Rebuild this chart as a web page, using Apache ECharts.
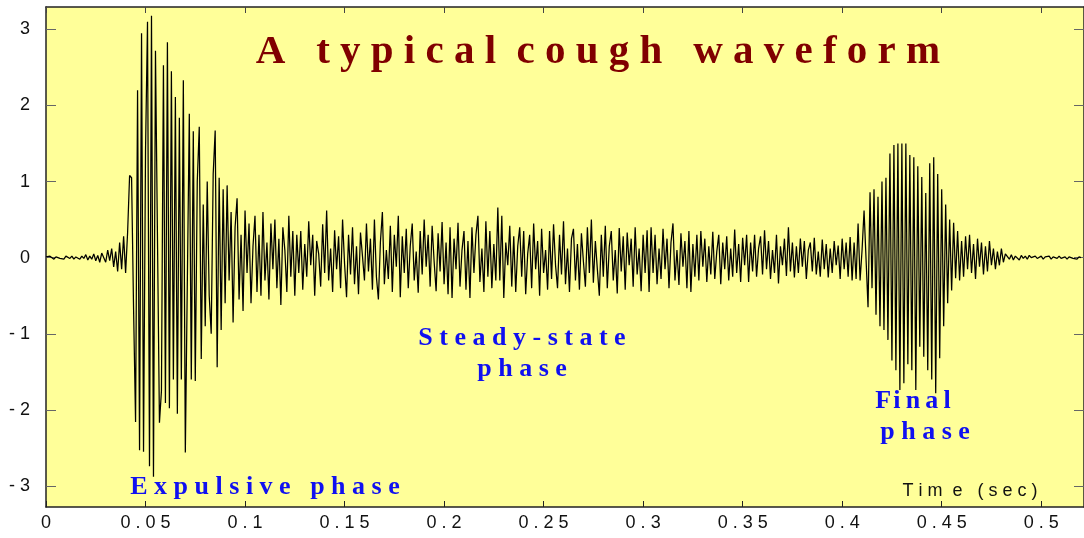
<!DOCTYPE html>
<html>
<head>
<meta charset="utf-8">
<script src="https://cdn.jsdelivr.net/npm/echarts@6/dist/echarts.min.js"></script>
<style>
html,body{margin:0;padding:0;background:#fff;}
#chart{width:1084px;height:538px;}
</style>
</head>
<body>
<div id="chart"></div>
<script>
// ---- data ----
const sampleStep = 0.001; // seconds between samples
const preNoise = [0.01,-0.01,0.02,0,-0.02,0.01,0.03,-0.01,0.01,-0.02,0.02,0.01,-0.01,0.02,-0.02,0.01,0.03,-0.02,0.02,-0.01,0.04,-0.03,0.02,-0.02,0.05,-0.04,0.03,-0.06,0.06];
const onset = [0.05,-0.06,0.1,-0.04,0.12,-0.12,0.08,-0.18,0.2,-0.15,0.28,-0.2,0.33];
const expulsive = [1.08,1.05,-0.68,-2.16,2.2,-2.53,2.95,-2.55,1.4,3.1,-2.74,3.18,-2.88,2.72,2.7,-2.17,-1.75,2.53,-1.91,2.83,-1.98,2.45,-1.6,2.11,-2.05,1.84,-1.6,2.33,-2.56,-2.55,1.89,-1.6,1.66,-1.62,1.0,1.72,-1.33,0.7,-0.9,1.0,-0.5,-1.0,1.1,1.67,-1.44,1.05,-0.95,0.9,-0.6];
const decay = [0.95,-0.3,0.6,-0.85,0.4,0.78,-0.55,0.3,-0.7,0.62,-0.2,0.45,-0.6,0.15,0.55,-0.45,0.3,-0.5,0.6,-0.3,0.2,-0.55,0.45,-0.15,0.5,-0.4,0.25,-0.62,0.4,0.1,-0.45,0.55,-0.25,0.35,-0.5,0.3,-0.2];
const steadyA = [0.35,-0.42,0.18,-0.25,0.48,-0.1,0.3,-0.5,0.22,0.05,-0.38,0.44,-0.2,0.62,-0.3,0.12,-0.45,0.36,-0.15,0.28,-0.4,0.5,-0.08,-0.52,0.3];
const steadyB = [-0.22,0.4,-0.35,0.15,-0.48,0.33,0.02,-0.3,0.45,-0.18,0.25,-0.42,0.5,-0.25,-0.55,0.2,0.6,-0.35,0.1,-0.28,0.42,-0.45,0.3,-0.12,0.55];
const steadyC = [-0.52,0.28,-0.2,0.38,-0.4,0.15,0.45,-0.3,0.08,-0.46,0.35,-0.22,0.5,-0.12,0.3,-0.38,0.42,-0.05,-0.44,0.32,-0.18,0.47,-0.35,0.2,-0.48];
const steadyD = [0.4,-0.53,0.25,-0.15,0.46,-0.38,0.1,0.35,-0.42,0.22,-0.53,0.4,-0.2,0.3,0.55,-0.32,0.12,-0.45,0.48,-0.25,0.35,-0.4,0.18,-0.3,0.66];
const steadyE = [-0.3,0.55,-0.53,0.2,-0.1,0.42,-0.38,0.28,-0.45,0.15,0.4,-0.25,0.35,-0.48,0.05,0.3,-0.4,0.45,-0.15,0.22,-0.5,0.38,-0.2,0.1,-0.42];
const steadyF = [0.35,-0.28,0.44,-0.1,-0.4,0.3,-0.22,0.48,-0.35,0.12,-0.45,0.25,0.38,-0.3,0.18,-0.42,0.32,-0.05,-0.38,0.4,-0.2,0.5,-0.33,0.22,-0.15];
const steadyG = [-0.5,0.3,-0.25,0.42,-0.4,0.15,0.35,-0.3,0.1,-0.47,0.39,-0.18,0.28,-0.42,0.33,-0.1,0.25,-0.38,0.4,-0.22,0.12,-0.44,0.3,-0.2,0.36];
const steadyH = [-0.45,0.4,-0.2,0.3,-0.35,0.12,-0.28,0.38,-0.15,0.25,-0.4,0.2,0.45,-0.3,0.1,-0.36,0.32,-0.12,0.22,-0.4,0.35,-0.45,0.18,-0.25,0.3];
const steadyI = [-0.3,0.35,-0.12,0.25,-0.32,0.15,-0.22,0.34,-0.28,0.08,0.3,-0.35,0.2,-0.15,0.28,-0.3,0.12,-0.25,0.37,-0.2,0.18,-0.32,0.26,-0.1,0.3];
const steadyJ = [-0.32,0.2,-0.18,0.3,-0.25,0.12,0.28,-0.22,0.36,-0.15,0.22,-0.28,0.1,-0.2,0.3,-0.34,0.15,-0.1,0.25,-0.24,0.4,-0.18,0.2,-0.26,0.15];
const steadyK = [-0.2,0.25,-0.12,0.22,-0.28,0.1,0.2,-0.18,0.26,-0.22,0.08,-0.25,0.24,-0.15,0.18,-0.26,0.12,-0.2,0.22,-0.1,0.16,-0.28,0.25,-0.15,0.2];
const finalPhase = [-0.25,0.27,-0.3,0.2,-0.28,
  0.45,-0.3,0.1,0.62,0.6,-0.65,0.86,-0.4,0.9,-0.75,0.8,-0.9,1.0,-0.95,1.05,-1.08,1.37,-1.35,1.48,-1.48,1.5,-1.74,1.5,-1.65,1.5,-1.4,1.35,-1.48,1.32,-1.74,1.2,-1.17,1.06,-1.3,0.85,-1.48,1.24,-1.6,1.32,-1.78,1.1,-1.32,0.9,-0.9,0.7,-0.6,0.5,-0.43,0.46,
  -0.27,0.35,-0.3,0.22,-0.25,0.28,-0.15,0.3,-0.2,0.18,-0.28,0.25,-0.12,0.2,-0.22,0.15,-0.18,0.22,-0.1,0.12,-0.15,0.08,-0.1,0.12,-0.06,0.05];
const tail = [0.03,-0.02,0.04,-0.03,0.02,0.01,-0.03,0.03,-0.01,0.02,-0.02,0.03,0,-0.02,0.02,-0.01,0.01,0.02,-0.02,0.01,-0.01,0.02,-0.02,0.01,0.01,-0.01,0.02,-0.01,0,0.01,-0.02,0.01,0.02,-0.01,0.01,-0.02,0.01,0];

const xTickValues = [0,0.05,0.1,0.15,0.2,0.25,0.3,0.35,0.4,0.45,0.5];
const xTickLabels = ['0','0 . 0 5','0 . 1','0 . 1 5','0 . 2','0 . 2 5','0 . 3','0 . 3 5','0 . 4','0 . 4 5','0 . 5'];
const yTickValues = [-3,-2,-1,0,1,2,3];
const yTickLabels = ['- 3','- 2','- 1','0','1','2','3'];

const titleText = 'A   t y p i c a l  c o u g h   w a v e f o r m';
const noteExpulsive = 'E x p u l s i v e   p h a s e';
const noteSteady1 = 'S t e a d y - s t a t e';
const noteSteady2 = 'p h a s e';
const noteFinal1 = 'F\u200Ai\u2009n\u2009a\u2009l';
const noteFinal2 = 'p h a s e';
const axisName = 'T i m  e   ( s e c )';

// ---- build ----
const values = [].concat(preNoise, onset, expulsive, decay,
  steadyA, steadyB, steadyC, steadyD, steadyE, steadyF, steadyG, steadyH, steadyI, steadyJ, steadyK,
  finalPhase, tail);
const seriesData = values.map((v, i) => [i * sampleStep, v]);

function lookup(vals, labels) {
  return function (v) {
    for (let k = 0; k < vals.length; k++) if (Math.abs(vals[k] - v) < 1e-9) return labels[k];
    return '';
  };
}

const chart = echarts.init(document.getElementById('chart'), null, {renderer: 'canvas'});
const axisLineStyle = {color: '#222', width: 1.5};
const blueFont = 'bold 26px "Liberation Serif", "Times New Roman", serif';

chart.setOption({
  animation: false,
  backgroundColor: '#ffffff',
  grid: {left: 46, right: -2, top: 7, bottom: 31, show: true, backgroundColor: '#FFFF99', borderWidth: 0},
  xAxis: [{
    type: 'value', min: 0, max: 0.5215, position: 'bottom',
    axisLine: {show: true, onZero: false, lineStyle: axisLineStyle},
    axisTick: {show: true, inside: true, length: 6, customValues: xTickValues, lineStyle: {color: '#222', width: 1}},
    axisLabel: {customValues: xTickValues, formatter: lookup(xTickValues, xTickLabels), margin: 7,
      fontFamily: '"Liberation Sans", Arial, sans-serif', fontSize: 18, color: '#111'},
    splitLine: {show: false}
  }, {
    type: 'value', min: 0, max: 0.5215, position: 'top',
    axisLine: {show: true, onZero: false, lineStyle: axisLineStyle},
    axisTick: {show: true, inside: true, length: 6, customValues: xTickValues, lineStyle: {color: '#444', width: 1}},
    axisLabel: {show: false},
    splitLine: {show: false}
  }],
  yAxis: [{
    type: 'value', min: -3.276, max: 3.294, position: 'left',
    axisLine: {show: true, onZero: false, lineStyle: axisLineStyle},
    axisTick: {show: true, inside: true, length: 10, customValues: yTickValues, lineStyle: {color: '#666', width: 1}},
    axisLabel: {customValues: yTickValues, formatter: lookup(yTickValues, yTickLabels), margin: 16,
      fontFamily: '"Liberation Sans", Arial, sans-serif', fontSize: 18, color: '#111'},
    splitLine: {show: false}
  }, {
    type: 'value', min: -3.276, max: 3.294, position: 'right',
    axisLine: {show: true, onZero: false, lineStyle: axisLineStyle},
    axisTick: {show: true, inside: true, length: 10, customValues: yTickValues, lineStyle: {color: '#666', width: 1}},
    axisLabel: {show: false},
    splitLine: {show: false}
  }],
  series: [{
    type: 'line', xAxisIndex: 0, yAxisIndex: 0,
    data: seriesData, showSymbol: false, symbol: 'none',
    lineStyle: {color: '#000', width: 1.25}, silent: true
  }],
  graphic: [
    {type: 'text', style: {text: titleText, x: 598, y: 52,
      font: 'bold 41px "Liberation Serif", "Times New Roman", serif', fill: '#800000',
      textAlign: 'center', textVerticalAlign: 'middle'}, z: 100},
    {type: 'text', style: {text: noteExpulsive, x: 265, y: 487, font: blueFont, fill: '#1010F0',
      textAlign: 'center', textVerticalAlign: 'middle'}, z: 100},
    {type: 'text', style: {text: noteSteady1, x: 522, y: 338, font: blueFont, fill: '#1010F0',
      textAlign: 'center', textVerticalAlign: 'middle'}, z: 100},
    {type: 'text', style: {text: noteSteady2, x: 522, y: 369, font: blueFont, fill: '#1010F0',
      textAlign: 'center', textVerticalAlign: 'middle'}, z: 100},
    {type: 'text', style: {text: noteFinal1, x: 913, y: 401, font: blueFont, fill: '#1010F0',
      textAlign: 'center', textVerticalAlign: 'middle'}, z: 100},
    {type: 'text', style: {text: noteFinal2, x: 925, y: 432, font: blueFont, fill: '#1010F0',
      textAlign: 'center', textVerticalAlign: 'middle'}, z: 100},
    {type: 'text', style: {text: axisName, x: 970, y: 491, font: '18px "Liberation Sans", Arial, sans-serif', fill: '#111',
      textAlign: 'center', textVerticalAlign: 'middle'}, z: 100}
  ]
});
</script>
</body>
</html>
